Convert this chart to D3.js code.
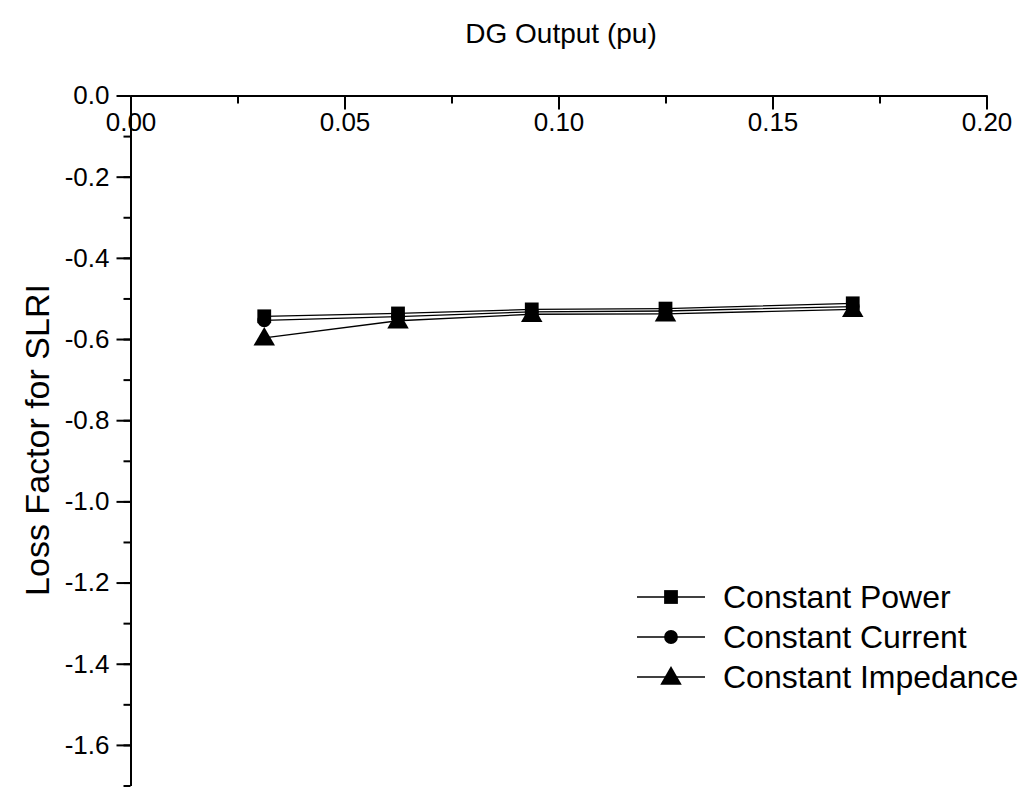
<!DOCTYPE html>
<html>
<head>
<meta charset="utf-8">
<script src="https://cdn.jsdelivr.net/npm/d3@7"></script>
<style>
  body { margin: 0; background: #fff; }
  text { font-family: "Liberation Sans", Arial, sans-serif; fill: #000; }
</style>
</head>
<body>
<script>
// data
var dgOutput = [0.03125, 0.0625, 0.09375, 0.125, 0.16875];
var constPower = [-0.544, -0.537, -0.527, -0.525, -0.512];
var constCurrent = [-0.554, -0.545, -0.533, -0.531, -0.520];
var constImpedance = [-0.597, -0.555, -0.539, -0.538, -0.527];
var seriesNames = ["Constant Power", "Constant Current", "Constant Impedance"];
var xTicks = [0, 0.05, 0.10, 0.15, 0.20];
var yTicks = [0, -0.2, -0.4, -0.6, -0.8, -1.0, -1.2, -1.4, -1.6];

var canvas = d3.select("body").append("svg")
  .attr("width", 1033)
  .attr("height", 787);

var x = d3.scaleLinear().domain([0, 0.2]).range([130.5, 986.5]);
var y = d3.scaleLinear().domain([0, -1.7]).range([95.5, 785.5]);

// x axis sits at the top, ticks pointing down, labels under the line
var xMinor = d3.range(0, 0.2001, 0.025);
canvas.append("g")
  .attr("transform", "translate(0,95.5)")
  .call(d3.axisBottom(x).tickValues(xMinor).tickSize(8).tickFormat(""))
  .call(function (g) { g.select(".domain").remove(); })
  .selectAll("line").attr("stroke-width", 2);

canvas.append("g")
  .attr("transform", "translate(0,95.5)")
  .call(d3.axisBottom(x).tickValues(xTicks).tickSize(14).tickSizeOuter(0)
    .tickPadding(3).tickFormat(function (d) { return d.toFixed(2); }))
  .call(function (g) {
    g.select(".domain").attr("stroke-width", 2);
    g.selectAll("line").attr("stroke-width", 2);
    g.selectAll("text").attr("font-size", 26).attr("dy", "0.71em");
  });

// y axis
var yMinor = d3.range(0, -1.7001, -0.1);
canvas.append("g")
  .attr("transform", "translate(130.5,0)")
  .call(d3.axisLeft(y).tickValues(yMinor).tickSize(7).tickFormat(""))
  .call(function (g) { g.select(".domain").remove(); })
  .selectAll("line").attr("stroke-width", 2);

canvas.append("g")
  .attr("transform", "translate(130.5,0)")
  .call(d3.axisLeft(y).tickValues(yTicks).tickSize(14).tickSizeOuter(0)
    .tickPadding(7).tickFormat(function (d) { return d.toFixed(1); }))
  .call(function (g) {
    g.select(".domain").attr("stroke-width", 2);
    g.selectAll("line").attr("stroke-width", 2);
    g.selectAll("text").attr("font-size", 26);
  });

// axis titles
canvas.append("text")
  .attr("x", 561)
  .attr("y", 43)
  .attr("text-anchor", "middle")
  .attr("font-size", 28)
  .text("DG Output (pu)");

canvas.append("text")
  .attr("transform", "translate(49,440) rotate(-90)")
  .attr("text-anchor", "middle")
  .attr("font-size", 34)
  .text("Loss Factor for SLRI");

// series
var series = [constPower, constCurrent, constImpedance];
var symbols = [d3.symbolSquare, d3.symbolCircle, d3.symbolTriangle];
var symSizes = [190, 150, 200];

var line = d3.line()
  .x(function (d, i) { return x(dgOutput[i]); })
  .y(function (d) { return y(d); });

series.forEach(function (vals, s) {
  canvas.append("path")
    .datum(vals)
    .attr("d", line)
    .attr("fill", "none")
    .attr("stroke", "#000")
    .attr("stroke-width", 1.3);
});

series.forEach(function (vals, s) {
  canvas.selectAll(".pt" + s)
    .data(vals)
    .enter()
    .append("path")
    .attr("class", "pt" + s)
    .attr("d", d3.symbol().type(symbols[s]).size(symSizes[s]))
    .attr("transform", function (d, i) {
      return "translate(" + x(dgOutput[i]) + "," + (y(d) + (s === 2 ? 1.5 : 0)) + ")";
    })
    .attr("fill", "#000");
});

// legend
var legend = canvas.selectAll(".legend")
  .data(seriesNames)
  .enter()
  .append("g")
  .attr("class", "legend")
  .attr("transform", function (d, i) { return "translate(637," + (597 + i * 40) + ")"; });

legend.append("line")
  .attr("x1", 0)
  .attr("x2", 68)
  .attr("y1", 0)
  .attr("y2", 0)
  .attr("stroke", "#000")
  .attr("stroke-width", 1.3);

legend.append("path")
  .attr("d", function (d, i) { return d3.symbol().type(symbols[i]).size(symSizes[i])(); })
  .attr("transform", function (d, i) { return "translate(34," + (i === 2 ? 1.5 : 0) + ")"; })
  .attr("fill", "#000");

legend.append("text")
  .attr("x", 86)
  .attr("y", 0)
  .attr("dy", "0.35em")
  .attr("font-size", 32)
  .text(function (d) { return d; });
</script>
</body>
</html>
